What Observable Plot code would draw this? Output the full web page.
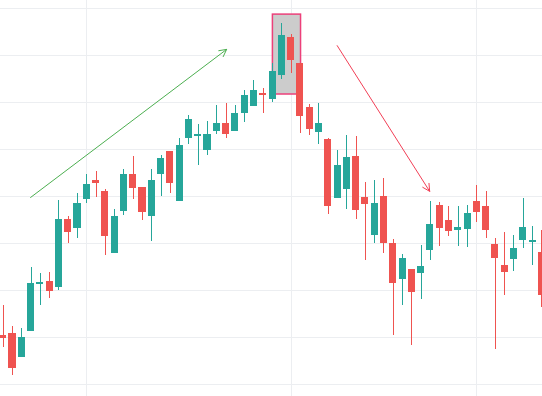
<!DOCTYPE html>
<html>
<head>
<meta charset="utf-8">
<script src="https://cdn.jsdelivr.net/npm/d3@7"></script>
<script src="https://cdn.jsdelivr.net/npm/@observablehq/plot@0.6"></script>
<style>
  html, body { margin: 0; padding: 0; background: #ffffff; overflow: hidden; }
  #chart svg { display: block; }
</style>
</head>
<body>
<div id="chart"></div>
<script>
// Candle values (bar index = position in array)
const opens  = [110.4,110.9,105.7,111.3,121.3,121.9,120.6,135.1,133.2,139.4,143.4,141.1,127.9,136.8,144.7,141.9,135.7,144.7,149.6,138.9,152.3,152.8,149.8,153.8,155.5,153.8,157.7,159.1,161.9,160.6,165.7,173.8,168.3,158.9,153.6,152.1,139.6,141.5,148.5,139.8,131.7,140.0,130.0,122.3,124.5,123.6,128.5,138.1,134.9,132.8,133.0,138.9,137.9,129.8,125.3,126.6,130.6,130.2,128.1];
const highs  = [116.8,112.3,111.9,124.9,123.6,123.8,139.1,135.7,140.6,144.7,145.3,141.5,137.2,145.7,148.5,141.9,145.7,148.7,149.6,152.3,157.2,155.3,156.0,159.4,159.8,159.4,162.6,164.7,163.0,168.3,176.8,174.5,168.3,159.6,159.8,152.3,149.8,153.0,152.8,143.0,143.4,143.8,130.9,127.7,124.5,129.6,138.9,138.7,137.9,137.9,138.1,142.3,141.1,131.1,132.3,131.7,139.6,133.6,132.8];
const lows   = [107.9,101.9,105.7,111.3,116.8,118.3,120.0,130.0,131.1,138.5,139.8,127.4,127.9,136.0,139.4,134.9,130.4,140.0,140.6,138.9,151.1,146.6,148.7,153.2,152.3,153.8,155.7,159.1,157.7,160.0,164.9,166.2,153.4,153.0,151.1,136.2,139.6,137.2,135.1,126.4,130.0,127.9,110.4,116.8,108.3,118.1,126.4,129.4,131.5,129.4,129.1,134.5,131.1,107.4,118.9,124.0,128.9,125.3,116.4];
const closes = [109.8,103.4,110.0,121.5,121.7,119.8,135.1,132.3,138.5,142.6,142.8,131.5,135.7,144.7,141.7,136.6,143.4,148.1,142.8,150.9,156.4,153.2,153.2,155.5,153.2,157.7,161.5,162.6,161.5,166.6,174.3,168.9,157.0,154.3,155.5,137.9,146.6,148.3,137.0,138.3,138.5,130.0,121.5,126.8,119.6,125.1,134.0,133.2,132.6,133.4,136.4,136.6,132.8,126.8,123.8,128.9,133.4,130.6,118.9];

// Grid positions
const gridPrices = [100, 110, 120, 130, 140, 150, 160, 170, 180];
const gridBars = [9, 31, 51];

// Drawings (bar index, price)
const trendArrows = [
  {x1: 2.95, y1: 139.8, x2: 24.06, y2: 171.3, color: "#4caf50"},
  {x1: 35.96, y1: 172.1, x2: 45.92, y2: 141.1, color: "#f23f56"}
];
const highlightBox = [{x1: 29.04, x2: 32.07, y1: 161.7, y2: 178.7}];

const candles = opens.map((o, i) => ({
  i, open: o, high: highs[i], low: lows[i], close: closes[i],
  up: closes[i] >= o
}));

const UP = "#26a69a", DOWN = "#ef5350";
const half = 0.38;

const chart = Plot.plot({
  width: 542,
  height: 396,
  margin: 0,
  style: {background: "#ffffff", overflow: "hidden"},
  x: {type: "linear", domain: [-0.292, 58.07], axis: null},
  y: {type: "linear", domain: [97.45, 181.70], axis: null},
  marks: [
    Plot.ruleY(gridPrices, {stroke: "#eceef1", strokeWidth: 1, shapeRendering: "crispEdges"}),
    Plot.ruleX(gridBars, {stroke: "#eceef1", strokeWidth: 1, shapeRendering: "crispEdges"}),
    Plot.rect(highlightBox, {
      x1: "x1", x2: "x2", y1: "y1", y2: "y2",
      fill: "#cccccc", stroke: "#ec407a", strokeWidth: 1.5
    }),
    Plot.ruleX(candles, {
      x: "i", y1: "low", y2: "high",
      stroke: d => d.up ? UP : DOWN, strokeWidth: 1, shapeRendering: "crispEdges"
    }),
    Plot.rect(candles, {
      x1: d => d.i - half, x2: d => d.i + half,
      y1: "open", y2: "close",
      fill: d => d.up ? UP : DOWN, shapeRendering: "crispEdges"
    }),
    Plot.arrow(trendArrows, {
      x1: "x1", y1: "y1", x2: "x2", y2: "y2",
      stroke: d => d.color, strokeWidth: 1, headLength: 12, headAngle: 55
    })
  ]
});
document.getElementById("chart").appendChild(chart);
</script>
</body>
</html>
